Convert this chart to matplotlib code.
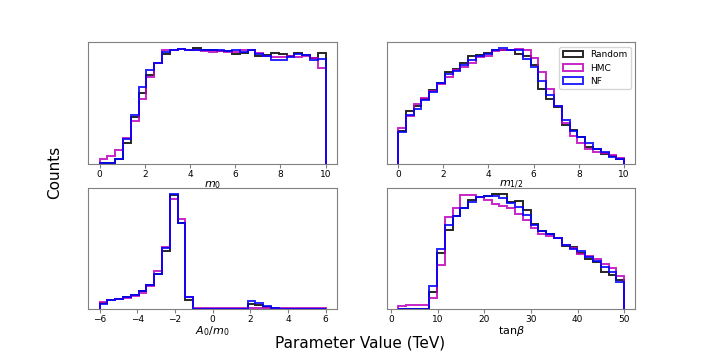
# recreate 2x2 step-histogram comparison of parameter distributions
import numpy as np
import matplotlib
matplotlib.use("Agg")
import matplotlib.pyplot as plt

# bin heights (relative counts), 29 bins per panel
m0_random = [0.3, 0.3, 4, 18, 40, 61, 77, 87, 95, 98, 99, 98, 100, 98, 98, 97.5, 97.5, 95,
             95.5, 98, 93, 94, 95.5, 95, 93, 95.5, 94, 91.5, 95.5]
m0_hmc = [4.3, 6.4, 12, 22, 37, 56, 75, 87, 98, 98.5, 99, 98.5, 98.5, 97.5, 97, 97.5, 96.5, 97,
          98, 98, 95.5, 93.5, 92.5, 92, 93, 92.5, 93, 91.5, 82.5]
m0_nf = [0.3, 0.3, 4, 21, 42, 66, 81, 87, 96.5, 98.5, 99, 98.5, 98.5, 98, 98, 98, 97.5, 98,
         97, 98, 94.5, 93, 90, 90, 92, 94.5, 94, 89.5, 90.5]

mhalf_random = [28.4, 45.2, 50.1, 55.6, 63.8, 70.1, 79.7, 81.7, 87.0, 92.8, 94.2, 95.7, 98.8,
                98.3, 98.3, 94.8, 92.8, 85.5, 64.3, 55.6, 49.2, 33.3, 28.7, 23.4, 14.7, 13.0,
                8.1, 6.4, 4.3]
mhalf_hmc = [30.4, 41.4, 51.6, 57.1, 62.9, 68.7, 75.1, 80.9, 83.8, 87.0, 92.2, 93.3, 97.7,
             98.0, 98.6, 99.1, 98.3, 91.3, 79.7, 64.3, 49.5, 34.8, 23.7, 17.4, 13.0, 10.1,
             8.7, 7.2, 5.2]
mhalf_nf = [27.5, 42.3, 47.0, 54.8, 62.3, 70.1, 77.4, 80.3, 85.0, 89.6, 93.6, 95.1, 98.6,
            100, 98.6, 98.3, 90.7, 83.5, 71.8, 59.4, 49.5, 37.6, 28.4, 23.2, 17.4, 13.0,
            10.1, 5.8, 3.5]

a0_random = [5, 7.3, 8.7, 10.2, 12.2, 15.1, 20.4, 30.6, 50.1, 98.5, 74.2, 7.9, 0.3, 0.3, 0.3,
             0.3, 0.3, 0.3, 0.3, 4.0, 3.2, 2.0, 0.8, 0.3, 0.3, 0.3, 0.3, 0.3, 0.3]
a0_hmc = [6, 7.3, 8.7, 9.5, 11.5, 13.5, 20, 33, 54, 95.6, 78.1, 10.2, 1, 0.8, 0.8, 0.8, 0.8,
          0.8, 0.8, 0.8, 0.8, 0.8, 0.8, 0.8, 0.8, 0.8, 0.8, 0.8, 0.6]
a0_nf = [4, 7.3, 8.7, 10.2, 12.2, 15.1, 20.4, 30.6, 52.5, 100, 74.4, 10.2, 0.2, 0.2, 0.2, 0.2,
         0.2, 0.2, 0.2, 6.4, 4.9, 2.9, 1.1, 0.2, 0.2, 0.2, 0.2, 0.2, 0.2]

tanb_random = [0.3, 0.3, 0.3, 0.3, 15, 48.4, 68.7, 80.3, 87.8, 94.2, 97, 97.6, 99.4, 100, 93,
               93.3, 86.1, 73.3, 67.5, 65.2, 61, 54.4, 53.6, 48.7, 43.5, 40.5, 31.8, 29.6, 24.6]
tanb_hmc = [2.9, 3.7, 3.7, 3.7, 9.4, 37.7, 79.7, 87.8, 98.5, 98.5, 97, 94.2, 91.3, 89, 87, 82,
            76.8, 70.4, 65.2, 62.9, 61, 55.7, 52.8, 47.8, 45.7, 42.9, 39.1, 35.3, 28.3]
tanb_nf = [0.3, 0.3, 0.3, 0.3, 19.8, 52.2, 72.4, 80.3, 87, 92.7, 97, 97.9, 97.9, 95.7, 92,
           88.4, 81.1, 72.4, 67.5, 64.6, 61, 55, 51.6, 49.8, 44.9, 41.4, 36.2, 31.8, 23.7]

panels = [
    ("$m_0$", (0, 10), [m0_random, m0_hmc, m0_nf], [0, 2, 4, 6, 8, 10]),
    ("$m_{1/2}$", (0, 10), [mhalf_random, mhalf_hmc, mhalf_nf], [0, 2, 4, 6, 8, 10]),
    ("$A_0/m_0$", (-6, 6), [a0_random, a0_hmc, a0_nf], [-6, -4, -2, 0, 2, 4, 6]),
    (r"tan$\beta$", (1.43, 50), [tanb_random, tanb_hmc, tanb_nf], [0, 10, 20, 30, 40, 50]),
]
labels = ["Random", "HMC", "NF"]
colors = ["k", "m", "b"]

fig, axes = plt.subplots(2, 2, figsize=(7.06, 3.53), dpi=100)
fig.subplots_adjust(left=0.125, right=0.9, top=0.88, bottom=0.125, wspace=0.2, hspace=0.2)

for ax, (xlabel, (lo, hi), series, ticks) in zip(axes.flat, panels):
    edges = np.linspace(lo, hi, len(series[0]) + 1)
    centers = 0.5 * (edges[:-1] + edges[1:])
    for vals, c, lab in zip(series, colors, labels):
        ax.hist(centers, bins=edges, weights=vals, histtype="step", color=c,
                lw=1.4, alpha=0.85, label=lab)
    ax.set_facecolor("none")  # keep the top-row labels visible
    ax.set_xlabel(xlabel, fontsize=8, labelpad=0)
    ax.set_xticks(ticks)
    ax.set_yticks([])
    ax.tick_params(axis="x", labelsize=6.5, color="0.5", length=3, pad=1.5)
    for s in ax.spines.values():
        s.set_color("0.5")

axes[0, 1].legend(fontsize=6.5, loc="upper right", handlelength=2.2, labelspacing=0.45,
                  borderpad=0.4)

fig.text(0.078, 0.513, "Counts", rotation=90, ha="center", va="center", fontsize=11)
fig.text(0.51, 0.028, "Parameter Value (TeV)", ha="center", va="center", fontsize=11)

plt.savefig("out.png", dpi=100)
